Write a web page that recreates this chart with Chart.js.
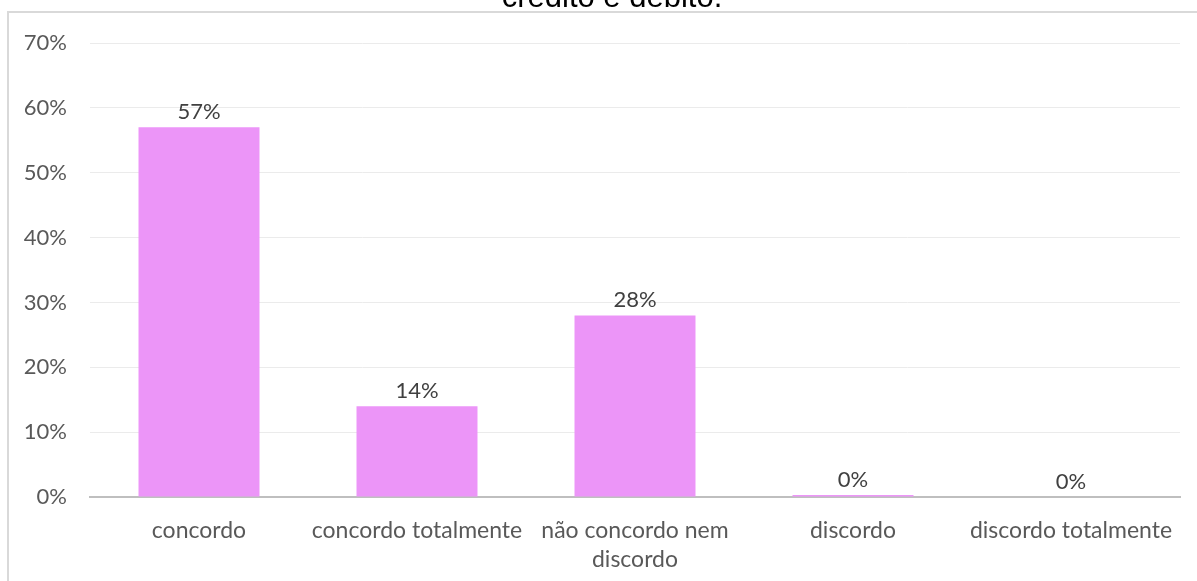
<!DOCTYPE html>
<html>
<head>
<meta charset="utf-8">
<script src="https://cdn.jsdelivr.net/npm/chart.js@4"></script>
<style>
  html, body { margin: 0; padding: 0; background: #fff; }
  #wrap { width: 1197px; height: 581px; position: relative; }
</style>
</head>
<body>
<div id="wrap"><canvas id="surveyChart" width="1197" height="581"></canvas></div>
<script>
// answers and share of respondents (%)
const categories = ['concordo', 'concordo totalmente', ['não concordo nem', 'discordo'], 'discordo', 'discordo totalmente'];
const shares = [57, 14, 28, 0.3, 0];
const yTicks = [0, 10, 20, 30, 40, 50, 60, 70];

// frame + clipped title line at the top
const framePlugin = {
    id: 'frame',
    beforeDraw(chart) {
        const c = chart.ctx;
        c.save();
        c.strokeStyle = '#D9D9D9';
        c.lineWidth = 2;
        c.beginPath();
        c.moveTo(8, 581);
        c.lineTo(8, 12);
        c.lineTo(1197, 12);
        c.stroke();
        c.fillStyle = '#000';
        c.font = '31px "Liberation Sans", Arial, sans-serif';
        c.textAlign = 'center';
        c.textBaseline = 'alphabetic';
        c.fillText('crédito e débito.', 612, 7);
        c.restore();
    }
};

// value labels above each bar
const valueLabels = {
    id: 'valueLabels',
    afterDatasetsDraw(chart) {
        const c = chart.ctx;
        const meta = chart.getDatasetMeta(0);
        c.save();
        c.fillStyle = '#404040';
        c.font = '22px Lato, "Open Sans", sans-serif';
        c.textAlign = 'center';
        c.textBaseline = 'bottom';
        meta.data.forEach((bar, i) => {
            const v = chart.data.datasets[0].data[i];
            c.fillText(Math.round(v) + '%', bar.x, bar.y - 4);
        });
        c.restore();
    }
};

const ctx = document.getElementById('surveyChart').getContext('2d');
const surveyChart = new Chart(ctx, {
    type: 'bar',
    data: {
        labels: categories,
        datasets: [{
            data: shares,
            backgroundColor: '#EC95F8',
            barPercentage: 0.555,
            categoryPercentage: 1
        }]
    },
    options: {
        responsive: false,
        animation: false,
        layout: { padding: { top: 43, right: 17, left: 0, bottom: 0 } },
        plugins: {
            legend: { display: false },
            tooltip: { enabled: false }
        },
        scales: {
            x: {
                grid: { display: false },
                border: { color: '#BFBFBF', width: 2 },
                ticks: {
                    color: '#595959',
                    font: { family: 'Lato, "Open Sans", sans-serif', size: 23, lineHeight: 1.26 },
                    padding: 11,
                    maxRotation: 0,
                    autoSkip: false
                },
                afterFit(scale) { scale.height = 84; }
            },
            y: {
                min: 0,
                max: 70,
                afterBuildTicks(scale) { scale.ticks = yTicks.map(v => ({ value: v })); },
                grid: { color: '#EBEBEB', lineWidth: 1, drawTicks: false },
                border: { display: false },
                ticks: {
                    color: '#595959',
                    font: { family: 'Lato, "Open Sans", sans-serif', size: 22 },
                    padding: 23,
                    callback: v => v + '%'
                },
                afterFit(scale) { scale.width = 90; }
            }
        }
    },
    plugins: [framePlugin, valueLabels]
});
</script>
</body>
</html>
